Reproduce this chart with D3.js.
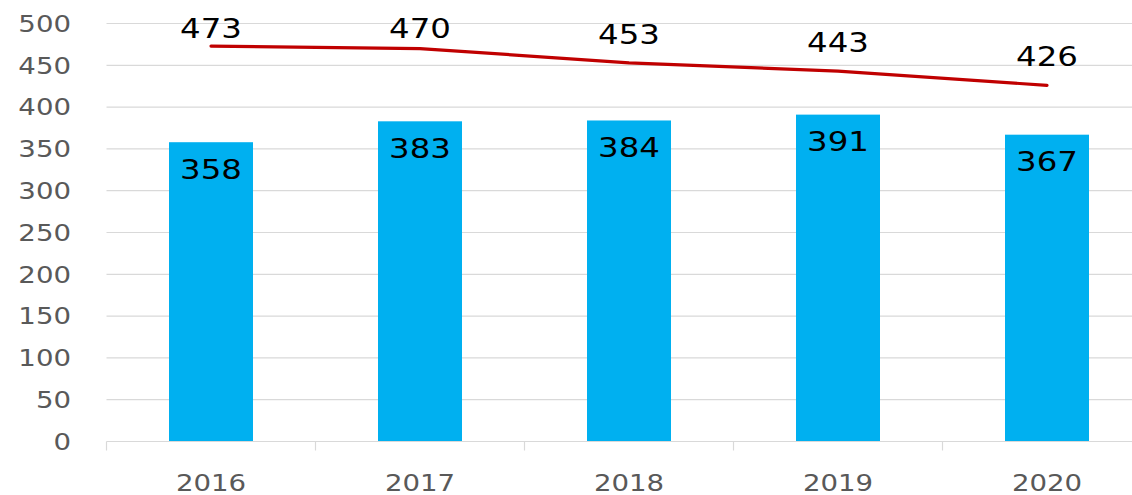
<!DOCTYPE html>
<html><head><meta charset="utf-8">
<script src="https://cdn.jsdelivr.net/npm/d3@7"></script>
<style>body{margin:0;background:#fff;overflow:hidden}svg{display:block}</style>
</head><body>
<svg id="c" width="1132" height="495"></svg>
<script>
const years = ["2016","2017","2018","2019","2020"];
const barValues = [358, 383, 384, 391, 367];
const lineValues = [473, 470, 453, 443, 426];
const yTicks = [0,50,100,150,200,250,300,350,400,450,500];

const svg = d3.select("#c");
const W = 1132, H = 495;
const x = d3.scaleBand().domain(years).range([106.5, 106.5 + 5*209]).padding(0);
const y = d3.scaleLinear().domain([0, 500]).range([441.5, 23.5]);
const SX = 1.2;
const font = "DejaVu Sans, Verdana, sans-serif";

// gridlines
svg.append("g").selectAll("line").data(yTicks.filter(d => d > 0)).join("line")
  .attr("x1", x.range()[0]).attr("x2", W)
  .attr("y1", d => y(d)).attr("y2", d => y(d))
  .attr("stroke", "#d9d9d9").attr("stroke-width", 1.2);

// y labels
svg.append("g").selectAll("text").data(yTicks).join("text")
  .attr("transform", d => `translate(71,${y(d)}) scale(${SX},1)`)
  .attr("dy", "0.36em").attr("text-anchor", "end")
  .attr("font-family", font).attr("font-size", 23).attr("fill", "#595959")
  .text(d => d);

// bars
const bw = 84;
svg.append("g").selectAll("rect").data(barValues).join("rect")
  .attr("x", (d,i) => x(years[i]) + x.bandwidth()/2 - bw/2)
  .attr("width", bw)
  .attr("y", d => y(d)).attr("height", d => y(0) - y(d))
  .attr("fill", "#00b0f0");

// x axis line and ticks
svg.append("line").attr("x1", x.range()[0]).attr("x2", W)
  .attr("y1", y(0)).attr("y2", y(0)).attr("stroke", "#d9d9d9").attr("stroke-width", 1.2);
const bounds = years.map(d => x(d)).concat([x.range()[1]]);
svg.append("g").selectAll("line").data(bounds.filter(b => b < W)).join("line")
  .attr("x1", d => d).attr("x2", d => d).attr("y1", y(0)).attr("y2", y(0) + 9)
  .attr("stroke", "#d9d9d9").attr("stroke-width", 1.2);

// x labels
svg.append("g").selectAll("text").data(years).join("text")
  .attr("transform", d => `translate(${x(d) + x.bandwidth()/2},491) scale(${SX},1)`)
  .attr("text-anchor", "middle")
  .attr("font-family", font).attr("font-size", 23).attr("fill", "#595959")
  .text(d => d);

// bar labels
svg.append("g").selectAll("text").data(barValues).join("text")
  .attr("transform", (d,i) => `translate(${x(years[i]) + x.bandwidth()/2},${y(d) + 36.5}) scale(${SX},1)`)
  .attr("text-anchor", "middle")
  .attr("font-family", font).attr("font-size", 27).attr("fill", "#000")
  .text(d => d);

// line
const line = d3.line().x((d,i) => x(years[i]) + x.bandwidth()/2).y(d => y(d));
svg.append("path").datum(lineValues).attr("d", line)
  .attr("fill", "none").attr("stroke", "#c00000").attr("stroke-width", 3.2)
  .attr("stroke-linecap", "round").attr("stroke-linejoin", "round");

// line labels
svg.append("g").selectAll("text").data(lineValues).join("text")
  .attr("transform", (d,i) => `translate(${x(years[i]) + x.bandwidth()/2},${Math.max(y(d) - 19, 38)}) scale(${SX},1)`)
  .attr("text-anchor", "middle")
  .attr("font-family", font).attr("font-size", 27).attr("fill", "#000")
  .text(d => d);
</script>
</body></html>
